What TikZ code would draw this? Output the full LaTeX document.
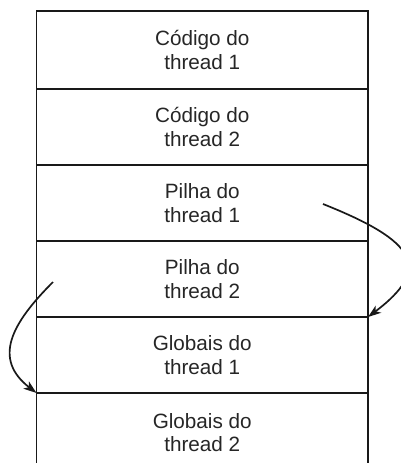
\documentclass[tikz,border=0pt]{standalone}
\usepackage{fontspec}
\setmainfont{Liberation Sans}
\usetikzlibrary{positioning,arrows.meta}

\begin{document}
\begin{tikzpicture}[x=1pt, y=-1pt, >={Stealth[length=13pt,width=9pt,inset=3.5pt]},
    bloco/.style={draw=black!90, line width=1.8pt, minimum width=331.5pt, minimum height=76pt,
        outer sep=0pt, align=center, text=black!85, font=\fontsize{20.7}{23.3}\selectfont},
    seta/.style={->, draw=black!90, line width=1.7pt}]
    \useasboundingbox (0,0) rectangle (401,463);
    % 1. Pilha de blocos
    \node[bloco, minimum height=78pt, anchor=north] (c1) at (202.25,11) {Código do\\thread 1};
    \node[bloco, below=0pt of c1] (c2) {Código do\\thread 2};
    \node[bloco, below=0pt of c2] (p1) {Pilha do\\thread 1};
    \node[bloco, below=0pt of p1] (p2) {Pilha do\\thread 2};
    \node[bloco, below=0pt of p2] (g1) {Globais do\\thread 1};
    \node[bloco, draw=none, minimum height=79pt, below=0pt of g1] (g2) {Globais do\\thread 2};
    \draw[draw=black!90, line width=1.8pt] (g2.south west) -- (g2.north west) (g2.north east) -- (g2.south east);

    % 2. Setas entre as pilhas
    \coordinate (s1) at (323,204);
    \coordinate (s2) at (53,282);
    \draw[seta] (s1) .. controls +(93,37) and +(65,-49) .. (p2.south east);
    \draw[seta] (s2) .. controls +(-42,42) and +(-44,-34) .. (g1.south west);
\end{tikzpicture}
\end{document}
